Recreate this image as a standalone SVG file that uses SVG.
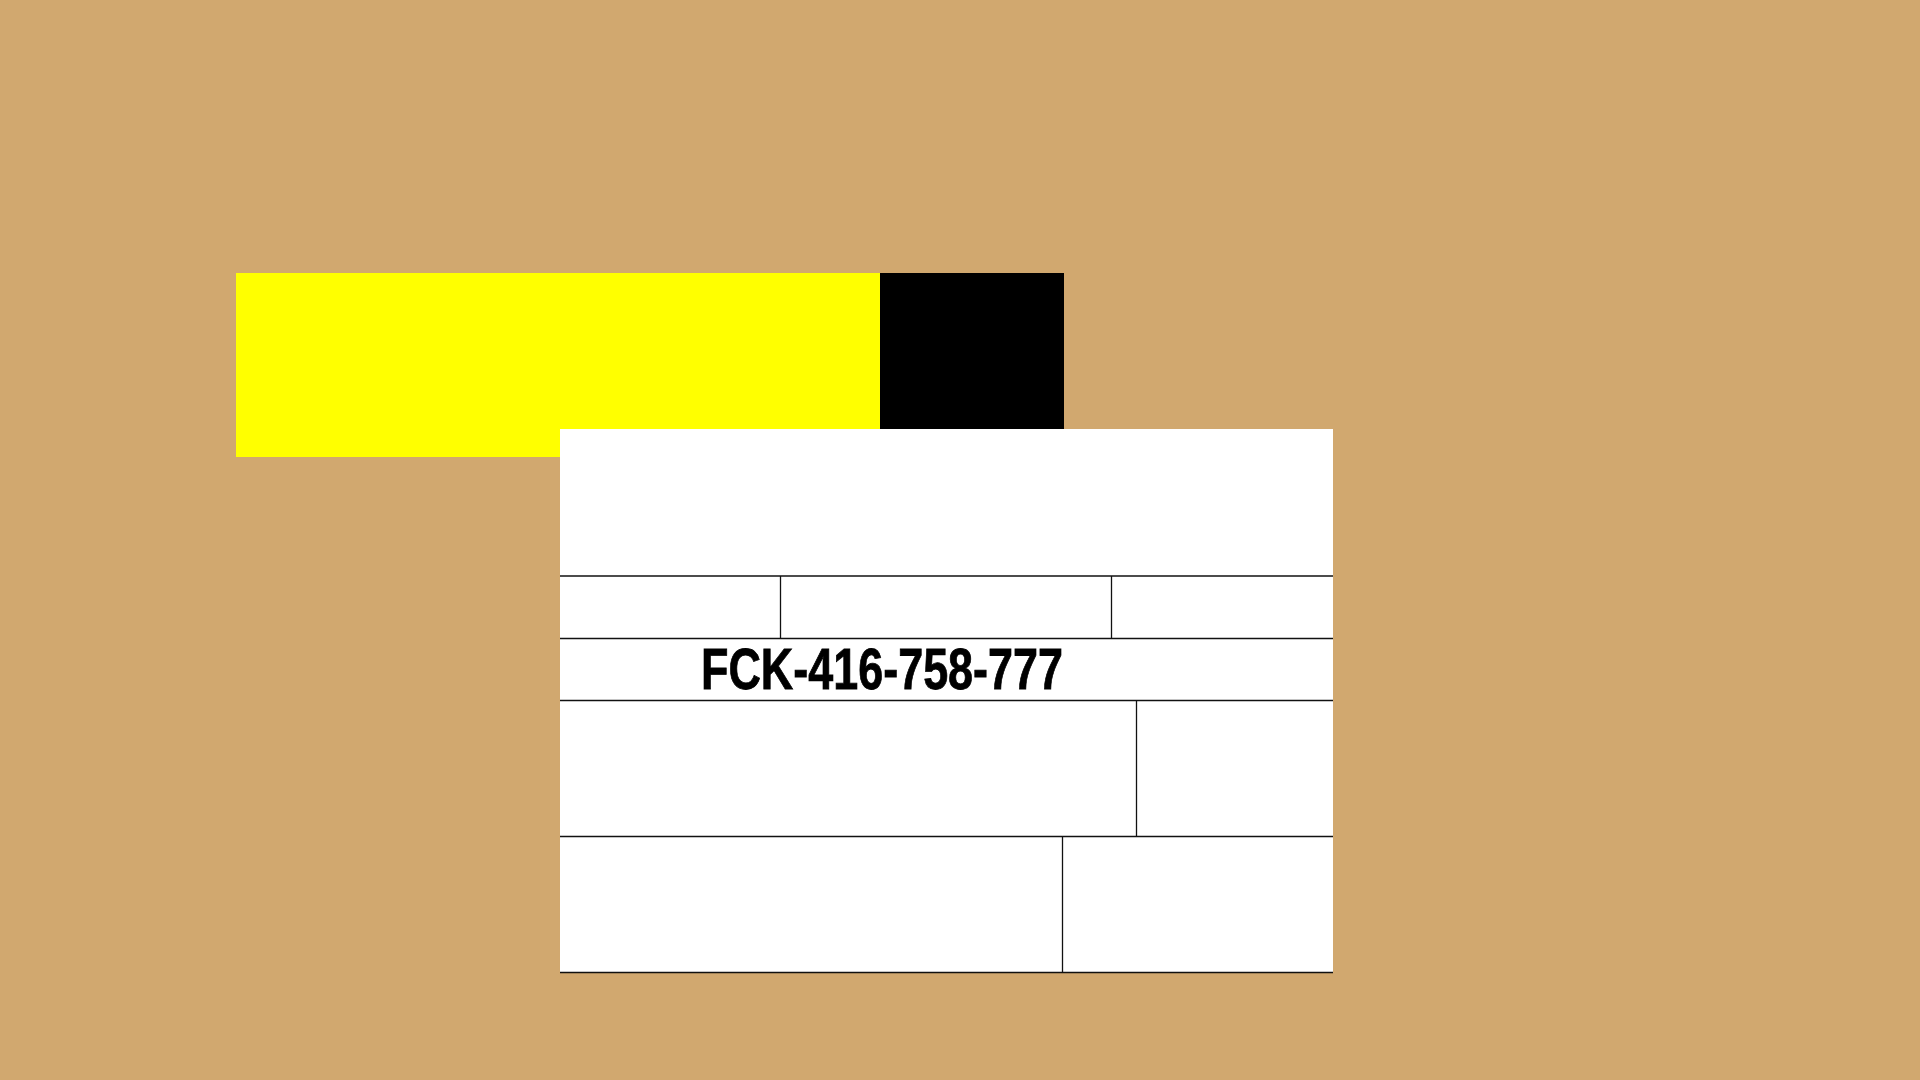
<svg xmlns="http://www.w3.org/2000/svg" width="1920" height="1080" viewBox="0 0 1920 1080">
<style>
.ln{stroke:#111;stroke-width:1.3;fill:none}
.lbl{font-family:"Liberation Sans",Arial,sans-serif;font-weight:bold;font-size:57px;fill:#000;stroke:#000;stroke-width:0.8}
</style>
<rect width="1920" height="1080" fill="#D1A86F"/>
<g id="yellow-bar"><rect x="236" y="273" width="644" height="184" fill="#FFFF00"/></g>
<g id="black-block"><rect x="880" y="273" width="184" height="156" fill="#000"/></g>
<g id="card">
<rect x="560" y="429" width="773" height="544" fill="#FFFFFF"/>
</g>
<g id="connectors">
<line class="ln" x1="560" y1="576" x2="1333" y2="576"/>
<line class="ln" x1="560" y1="638.5" x2="1333" y2="638.5"/>
<line class="ln" x1="560" y1="700.5" x2="1333" y2="700.5"/>
<line class="ln" x1="560" y1="836.5" x2="1333" y2="836.5"/>
<line class="ln" x1="560" y1="972.5" x2="1333" y2="972.5"/>
<line class="ln" x1="780.5" y1="576" x2="780.5" y2="638.5"/>
<line class="ln" x1="1111.5" y1="576" x2="1111.5" y2="638.5"/>
<line class="ln" x1="1136.5" y1="700.5" x2="1136.5" y2="836.5"/>
<line class="ln" x1="1062.5" y1="836.5" x2="1062.5" y2="972.5"/>
</g>
<g id="plate-number">
<text class="lbl" x="701" y="689" textLength="362" lengthAdjust="spacingAndGlyphs">FCK-416-758-777</text>
</g>
</svg>
